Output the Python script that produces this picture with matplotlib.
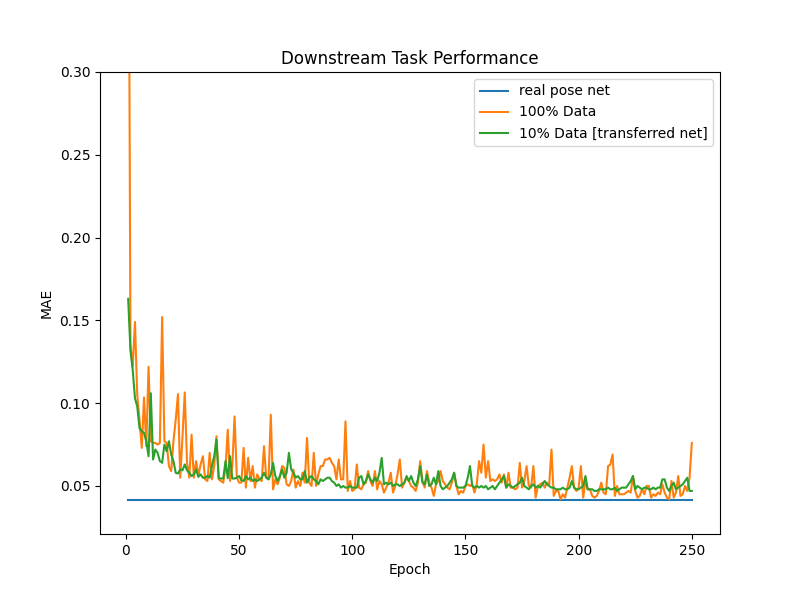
import numpy as np
import matplotlib
matplotlib.use("Agg")
import matplotlib.pyplot as plt

# MAE per epoch
epochs = np.arange(1, 251)

real_pose_mae = 0.0417

full_data_mae = [
    0.50, 0.135, 0.122, 0.149, 0.105, 0.090, 0.073, 0.1035, 0.074, 0.122,
    0.077, 0.076, 0.076, 0.075, 0.076, 0.152, 0.077, 0.076, 0.062, 0.059,
    0.077, 0.090, 0.1055, 0.055, 0.080, 0.1065, 0.064, 0.055, 0.081, 0.055,
    0.065, 0.056, 0.063, 0.068, 0.054, 0.053, 0.070, 0.054, 0.062, 0.080,
    0.054, 0.053, 0.052, 0.061, 0.084, 0.053, 0.062, 0.092, 0.055, 0.052,
    0.052, 0.073, 0.049, 0.067, 0.053, 0.062, 0.049, 0.057, 0.054, 0.053,
    0.074, 0.055, 0.054, 0.093, 0.048, 0.054, 0.051, 0.055, 0.062, 0.061,
    0.051, 0.050, 0.053, 0.060, 0.049, 0.053, 0.050, 0.058, 0.052, 0.079,
    0.052, 0.050, 0.070, 0.050, 0.057, 0.062, 0.062, 0.066, 0.066, 0.067,
    0.064, 0.062, 0.054, 0.066, 0.054, 0.054, 0.089, 0.047, 0.053, 0.047,
    0.048, 0.063, 0.049, 0.048, 0.051, 0.052, 0.059, 0.053, 0.050, 0.059,
    0.048, 0.053, 0.051, 0.046, 0.049, 0.052, 0.058, 0.046, 0.050, 0.057,
    0.066, 0.049, 0.052, 0.055, 0.053, 0.050, 0.049, 0.047, 0.052, 0.065,
    0.053, 0.049, 0.059, 0.052, 0.049, 0.044, 0.051, 0.053, 0.059, 0.053,
    0.051, 0.049, 0.048, 0.052, 0.058, 0.050, 0.045, 0.047, 0.046, 0.050,
    0.051, 0.050, 0.051, 0.046, 0.051, 0.065, 0.058, 0.075, 0.055, 0.065,
    0.053, 0.054, 0.053, 0.054, 0.057, 0.052, 0.057, 0.049, 0.058, 0.049,
    0.049, 0.048, 0.049, 0.064, 0.049, 0.053, 0.062, 0.050, 0.049, 0.062,
    0.043, 0.050, 0.051, 0.052, 0.049, 0.052, 0.051, 0.072, 0.044, 0.047,
    0.047, 0.042, 0.045, 0.043, 0.049, 0.055, 0.062, 0.049, 0.047, 0.049,
    0.062, 0.043, 0.053, 0.048, 0.048, 0.044, 0.043, 0.044, 0.047, 0.052,
    0.046, 0.045, 0.062, 0.063, 0.069, 0.044, 0.050, 0.045, 0.045, 0.045,
    0.046, 0.047, 0.046, 0.056, 0.047, 0.043, 0.044, 0.048, 0.045, 0.050,
    0.050, 0.043, 0.045, 0.044, 0.046, 0.045, 0.051, 0.046, 0.043, 0.042,
    0.053, 0.043, 0.046, 0.056, 0.044, 0.045, 0.050, 0.047, 0.055, 0.076,
]

transfer_mae = [
    0.163, 0.132, 0.120, 0.103, 0.098, 0.085, 0.083, 0.082, 0.077, 0.068,
    0.106, 0.066, 0.072, 0.070, 0.065, 0.064, 0.075, 0.071, 0.077, 0.069,
    0.065, 0.058, 0.0575, 0.060, 0.0595, 0.063, 0.0595, 0.058, 0.056, 0.057,
    0.060, 0.0555, 0.057, 0.055, 0.055, 0.056, 0.055, 0.062, 0.068, 0.078,
    0.0547, 0.0545, 0.0545, 0.065, 0.0547, 0.068, 0.0545, 0.0545, 0.055, 0.056,
    0.0535, 0.053, 0.056, 0.054, 0.055, 0.053, 0.054, 0.053, 0.054, 0.055,
    0.058, 0.055, 0.054, 0.057, 0.064, 0.056, 0.053, 0.056, 0.060, 0.055,
    0.058, 0.070, 0.060, 0.058, 0.055, 0.056, 0.054, 0.054, 0.059, 0.052,
    0.055, 0.056, 0.054, 0.053, 0.051, 0.054, 0.053, 0.054, 0.055, 0.055,
    0.053, 0.052, 0.050, 0.051, 0.049, 0.050, 0.049, 0.049, 0.050, 0.049,
    0.049, 0.049, 0.055, 0.056, 0.051, 0.053, 0.057, 0.054, 0.052, 0.055,
    0.053, 0.058, 0.067, 0.051, 0.052, 0.051, 0.052, 0.050, 0.051, 0.051,
    0.050, 0.051, 0.052, 0.056, 0.053, 0.056, 0.052, 0.050, 0.054, 0.062,
    0.052, 0.051, 0.057, 0.050, 0.051, 0.055, 0.051, 0.059, 0.050, 0.048,
    0.049, 0.050, 0.052, 0.054, 0.058, 0.050, 0.049, 0.049, 0.049, 0.050,
    0.055, 0.062, 0.050, 0.049, 0.050, 0.049, 0.050, 0.049, 0.050, 0.048,
    0.049, 0.050, 0.048, 0.050, 0.052, 0.054, 0.056, 0.049, 0.051, 0.050,
    0.049, 0.050, 0.051, 0.052, 0.055, 0.050, 0.049, 0.048, 0.050, 0.051,
    0.049, 0.050, 0.049, 0.051, 0.053, 0.051, 0.050, 0.049, 0.049, 0.048,
    0.048, 0.048, 0.049, 0.048, 0.048, 0.049, 0.053, 0.049, 0.048, 0.048,
    0.049, 0.050, 0.056, 0.048, 0.048, 0.048, 0.047, 0.047, 0.048, 0.048,
    0.048, 0.048, 0.049, 0.048, 0.048, 0.049, 0.047, 0.048, 0.049, 0.049,
    0.049, 0.051, 0.053, 0.056, 0.048, 0.050, 0.049, 0.048, 0.049, 0.049,
    0.048, 0.048, 0.049, 0.048, 0.049, 0.049, 0.054, 0.054, 0.049, 0.047,
    0.050, 0.052, 0.048, 0.049, 0.050, 0.051, 0.053, 0.055, 0.047, 0.047,
]

fig, ax = plt.subplots(figsize=(8, 6), dpi=100)
ax.plot(epochs, np.full(len(epochs), real_pose_mae), label="real pose net")
ax.plot(epochs, full_data_mae, label="100% Data")
ax.plot(epochs, transfer_mae, label="10% Data [transferred net]")

ax.set_ylim(0.021, 0.30)
ax.set_title("Downstream Task Performance")
ax.set_xlabel("Epoch")
ax.set_ylabel("MAE")
ax.legend(loc="upper right")

fig.savefig("out.png", dpi=100)
